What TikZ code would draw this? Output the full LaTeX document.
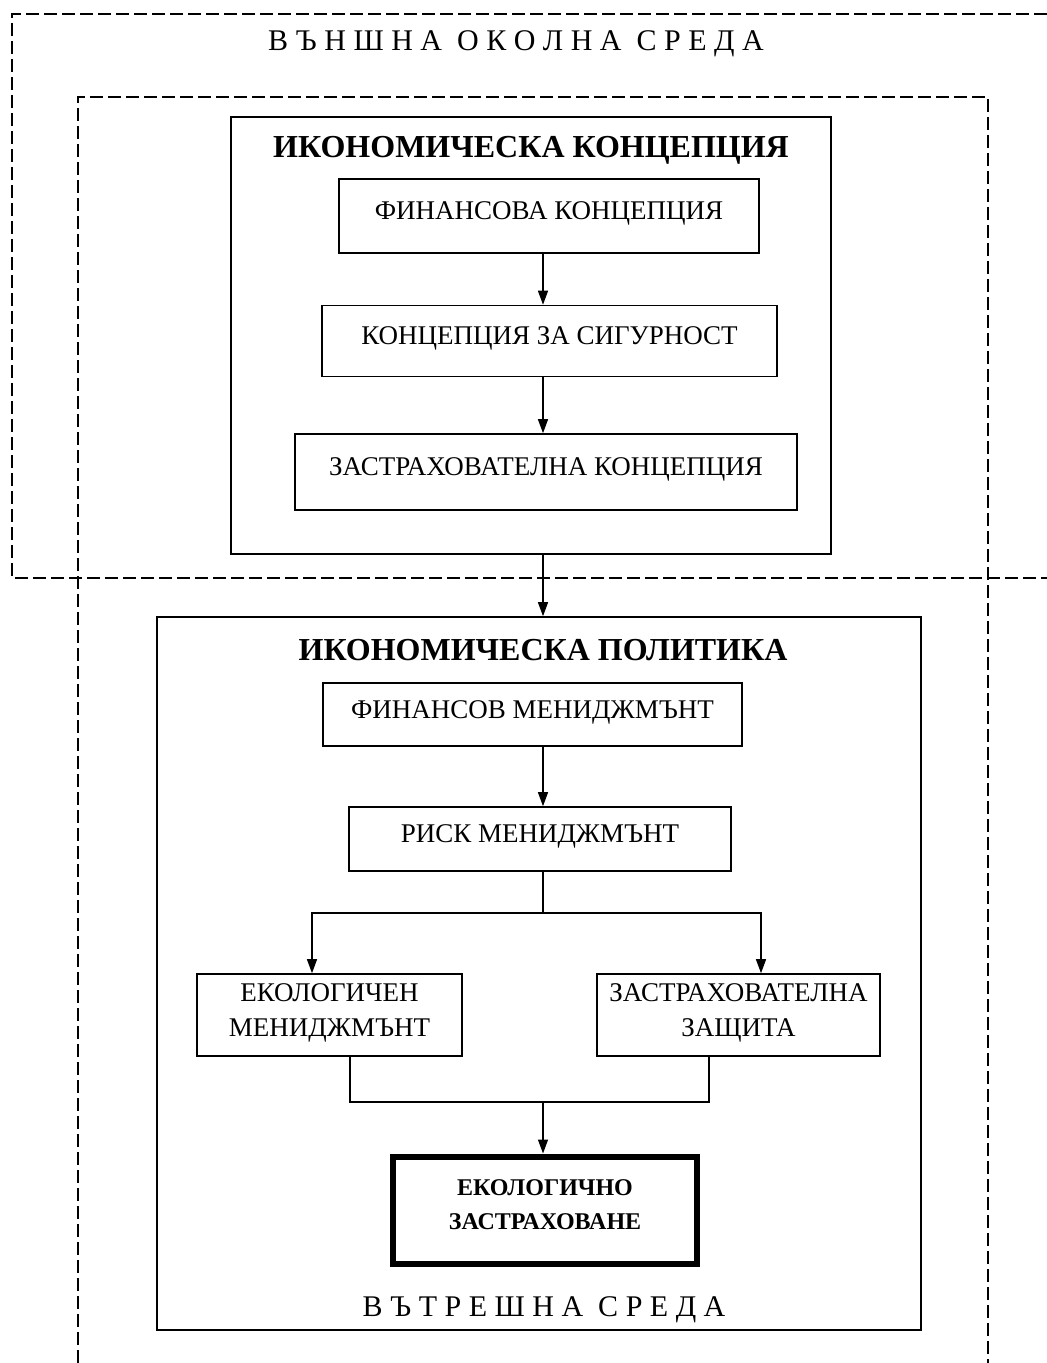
\documentclass[tikz,border=0pt]{standalone}
\usepackage{fontspec}
\setmainfont{Liberation Serif}
\usetikzlibrary{arrows.meta}

\begin{document}
\begin{tikzpicture}[x=0.5pt, y=-0.5pt,
  box/.style={draw, line width=0.8pt, align=center, text depth=5pt,
    font=\fontsize{13.5}{17.5}\selectfont},
  frame/.style={draw, line width=0.8pt},
  title/.style={font=\bfseries\fontsize{16}{19}\selectfont},
  env/.style={font=\fontsize{15}{18}\selectfont},
  zone/.style={line width=1pt, dash pattern=on 6.5pt off 2.5pt},
  arr/.style={-{Triangle[length=7pt,width=5pt]}, line width=0.65pt},
  link/.style={line width=0.65pt}]
\useasboundingbox (0,0) rectangle (1047,1363);
\draw[zone] (1047,14) -- (12,14) -- (12,578) -- (1047,578);
\draw[zone] (78,1363) -- (78,97) -- (988,97) -- (988,1363);
\node[env] (outer) at (516,44) {В Ъ Н Ш Н А\ \ О К О Л Н А\ \ С Р Е Д А};

\node[frame, minimum width=300pt, minimum height=218.5pt] (konc) at (531,335.5) {};
\node[title] (konct) at (531,150) {ИКОНОМИЧЕСКА КОНЦЕПЦИЯ};
\node[box, minimum width=210pt, minimum height=37pt] (fin) at (549,216) {ФИНАНСОВА КОНЦЕПЦИЯ};
\node[box, minimum width=227.5pt, minimum height=35.5pt] (sig) at (549.5,341) {КОНЦЕПЦИЯ ЗА СИГУРНОСТ};
\node[box, minimum width=251pt, minimum height=38pt] (zk) at (546,472) {ЗАСТРАХОВАТЕЛНА КОНЦЕПЦИЯ};

\node[frame, minimum width=382pt, minimum height=356.5pt] (pol) at (539,973.5) {};
\node[title] (polt) at (543,650) {ИКОНОМИЧЕСКА ПОЛИТИКА};
\node[box, minimum width=209.5pt, minimum height=31.5pt] (finm) at (532.5,714.5) {ФИНАНСОВ МЕНИДЖМЪНТ};
\node[box, minimum width=191pt, minimum height=32pt] (risk) at (540,839) {РИСК МЕНИДЖМЪНТ};
\node[box, minimum width=132.5pt, minimum height=41pt] (ekm) at (329.5,1015) {ЕКОЛОГИЧЕН\\МЕНИДЖМЪНТ};
\node[box, minimum width=141.5pt, minimum height=41pt] (zz) at (738.5,1015) {ЗАСТРАХОВАТЕЛНА\\ЗАЩИТА};
\node[box, line width=3pt, minimum width=152pt, minimum height=53.5pt,
  font=\bfseries\fontsize{12}{17}\selectfont] (eins) at (545,1210) {ЕКОЛОГИЧНО\\ЗАСТРАХОВАНЕ};
\node[env] (inner) at (544,1310) {В Ъ Т Р Е Ш Н А\ \ С Р Е Д А};

\coordinate (ax) at (543,0);
\coordinate (lx) at (312,0);
\coordinate (rx) at (761,0);
\coordinate (ml) at (350,0);
\coordinate (mr) at (709,0);
\coordinate (split) at (543,913);
\coordinate (merge) at (543,1102);
\draw[arr] (fin.south -| ax) -- (sig.north -| ax);
\draw[arr] (sig.south -| ax) -- (zk.north -| ax);
\draw[arr] (konc.south -| ax) -- (pol.north -| ax);
\draw[arr] (finm.south -| ax) -- (risk.north -| ax);
\draw[link] (risk.south -| ax) -- (split);
\draw[arr] (split) -| (lx |- ekm.north);
\draw[arr] (split) -| (rx |- zz.north);
\draw[link] (ml |- ekm.south) -- (ml |- merge) -- (mr |- merge) -- (mr |- zz.south);
\draw[arr] (merge) -- (eins.north -| ax);
\end{tikzpicture}
\end{document}
